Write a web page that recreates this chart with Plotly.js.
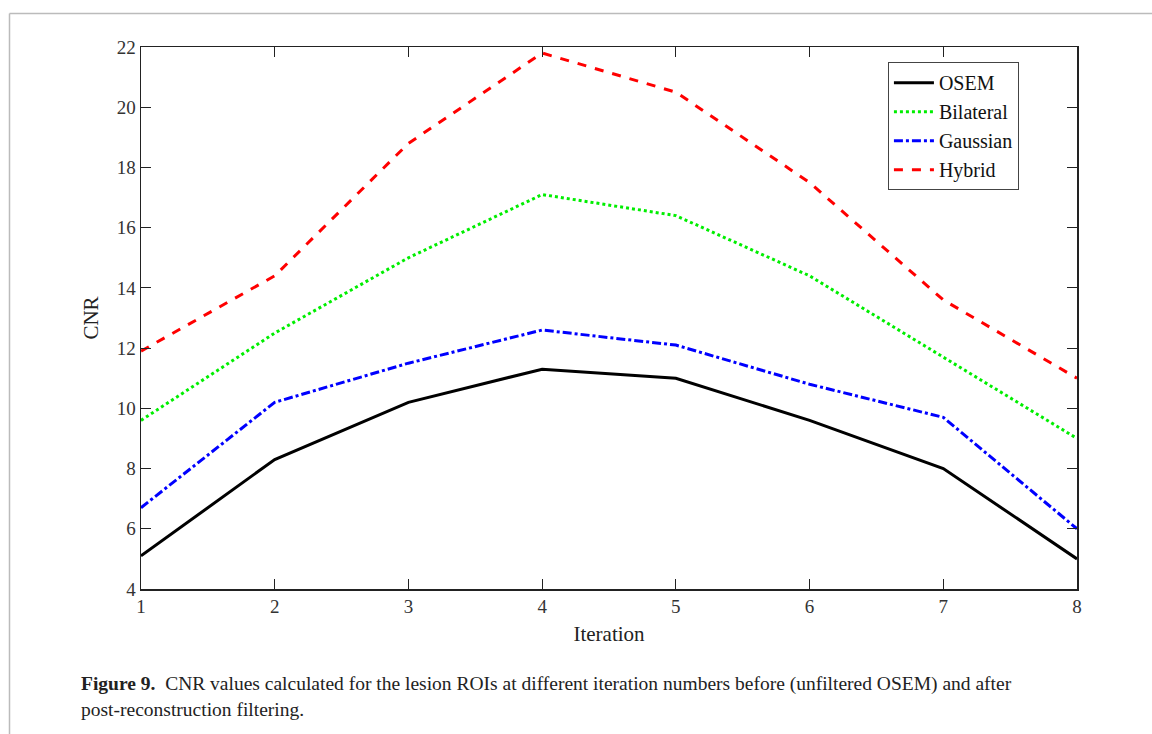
<!DOCTYPE html>
<html>
<head>
<meta charset="utf-8">
<script src="https://cdn.plot.ly/plotly-3.0.1.min.js"></script>
<style>html,body{margin:0;padding:0;background:#fff}#chart{width:1152px;height:734px}</style>
</head>
<body>
<div id="chart"></div>
<script>
const iterations = [1, 2, 3, 4, 5, 6, 7, 8];
const osem = [5.1, 8.3, 10.2, 11.3, 11.0, 9.6, 8.0, 5.0];
const bilateral = [9.6, 12.5, 15.0, 17.1, 16.4, 14.4, 11.7, 9.0];
const gaussian = [6.7, 10.2, 11.5, 12.6, 12.1, 10.8, 9.7, 6.0];
const hybrid = [11.9, 14.4, 18.8, 21.8, 20.5, 17.5, 13.6, 11.0];
const yTicks = [4, 6, 8, 10, 12, 14, 16, 18, 20, 22];

const font = "'Liberation Serif', 'Times New Roman', serif";
const traces = [
  {x: iterations, y: osem, name: 'OSEM', mode: 'lines', line: {color: '#000000', width: 3, dash: 'solid'}},
  {x: iterations, y: bilateral, name: 'Bilateral', mode: 'lines', line: {color: '#00ee00', width: 3, dash: 'dot'}},
  {x: iterations, y: gaussian, name: 'Gaussian', mode: 'lines', line: {color: '#0000ff', width: 3, dash: 'dashdot'}},
  {x: iterations, y: hybrid, name: 'Hybrid', mode: 'lines', line: {color: '#ff0000', width: 3, dash: 'dash'}}
];
const layout = {
  width: 1152, height: 734,
  margin: {l: 141, r: 75, t: 47, b: 145},
  paper_bgcolor: '#fff', plot_bgcolor: '#fff',
  font: {family: font, size: 18, color: '#222'},
  showlegend: true,
  legend: {x: 0.798, y: 0.972, xanchor: 'left', yanchor: 'top', bordercolor: '#444', borderwidth: 1,
    font: {family: font, size: 20, color: '#111'}, bgcolor: '#fff', tracegroupgap: 0, itemwidth: 40},
  xaxis: {range: [1, 8], tickvals: iterations, ticks: 'inside', ticklen: 10, tickwidth: 1, tickcolor: '#222',
    showline: true, linecolor: '#222', linewidth: 1.5, mirror: 'ticks', showgrid: false, zeroline: false,
    tickfont: {family: font, size: 19, color: '#333'},
    title: {text: 'Iteration', font: {family: font, size: 21, color: '#222'}, standoff: 10}},
  yaxis: {range: [4, 22], tickvals: yTicks, ticks: 'inside', ticklen: 10, tickwidth: 1, tickcolor: '#222',
    showline: true, linecolor: '#222', linewidth: 1.5, mirror: 'ticks', showgrid: false, zeroline: false,
    tickfont: {family: font, size: 19, color: '#333'},
    title: {text: 'CNR', font: {family: font, size: 21, color: '#222'}, standoff: 12}},
  shapes: [
    {type: 'line', xref: 'paper', yref: 'paper', x0: (9.5 - 141) / 936, x1: (1152 - 141) / 936,
      y0: (589 - 13.5) / 542, y1: (589 - 13.5) / 542, line: {color: '#bbbbbb', width: 1.5}},
    {type: 'line', xref: 'paper', yref: 'paper', x0: (9.5 - 141) / 936, x1: (9.5 - 141) / 936,
      y0: (589 - 13.5) / 542, y1: (589 - 734) / 542, line: {color: '#bbbbbb', width: 1.5}}
  ],
  annotations: [
    {xref: 'paper', yref: 'paper', x: (79 - 141) / 936, y: (589 - 684) / 542, xanchor: 'left', yanchor: 'middle',
      showarrow: false, align: 'left', font: {family: font, size: 19.5, color: '#222'},
      text: '<b>Figure 9.</b>  CNR values calculated for the lesion ROIs at different iteration numbers before (unfiltered OSEM) and after'},
    {xref: 'paper', yref: 'paper', x: (79 - 141) / 936, y: (589 - 709) / 542, xanchor: 'left', yanchor: 'middle',
      showarrow: false, align: 'left', font: {family: font, size: 19.5, color: '#222'},
      text: 'post-reconstruction filtering.'}
  ]
};
Plotly.newPlot('chart', traces, layout, {displayModeBar: false, staticPlot: true});
</script>
</body>
</html>
